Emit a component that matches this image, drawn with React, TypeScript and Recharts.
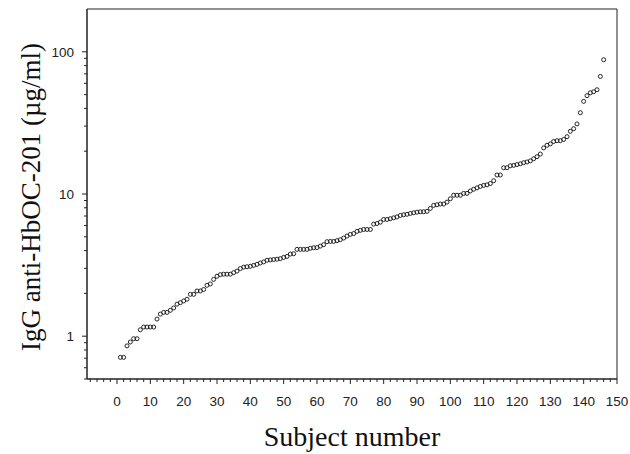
import React from 'react';
import { ScatterChart, Scatter, XAxis, YAxis, ReferenceArea } from 'recharts';

// IgG anti-HbOC-201 per subject, sorted ascending (µg/ml)
const iggValues = [
  0.71, 0.71, 0.855, 0.91, 0.96, 0.96, 1.11, 1.16, 1.16, 1.16,
  1.16, 1.32, 1.43, 1.47, 1.47, 1.52, 1.58, 1.68, 1.72, 1.77,
  1.82, 1.97, 1.97, 2.08, 2.08, 2.13, 2.28, 2.33, 2.51, 2.64,
  2.71, 2.73, 2.73, 2.73, 2.8, 2.87, 2.99, 3.06, 3.08, 3.1,
  3.15, 3.2, 3.27, 3.33, 3.42, 3.44, 3.46, 3.48, 3.51, 3.58,
  3.64, 3.78, 3.8, 4.08, 4.08, 4.08, 4.08, 4.15, 4.19, 4.2,
  4.3, 4.4, 4.62, 4.64, 4.64, 4.7, 4.77, 4.9, 5.06, 5.2,
  5.27, 5.46, 5.55, 5.63, 5.63, 5.63, 6.14, 6.2, 6.34, 6.62,
  6.62, 6.7, 6.8, 6.9, 7.07, 7.15, 7.2, 7.3, 7.38, 7.45,
  7.5, 7.5, 7.55, 7.92, 8.32, 8.4, 8.5, 8.5, 8.77, 9.26,
  9.8, 9.8, 9.8, 10.1, 10.1, 10.5, 10.8, 11.05, 11.3, 11.5,
  11.6, 11.85, 12.4, 13.6, 13.6, 15.3, 15.3, 15.8, 15.9, 16.1,
  16.3, 16.6, 16.8, 17.1, 17.7, 18.3, 19.1, 21.1, 22, 22.5,
  23.4, 23.7, 23.7, 24.2, 25.3, 27.6, 28.8, 31.1, 37.3, 44.8,
  49.1, 51.5, 52.4, 54.1, 67.1, 87.9,
];

const xTicks = [
  -8, -6, -4, -2, 0, 2, 4, 6, 8, 10, 12, 14, 16, 18, 20, 22, 24, 26, 28, 30,
  32, 34, 36, 38, 40, 42, 44, 46, 48, 50, 52, 54, 56, 58, 60, 62, 64, 66, 68, 70,
  72, 74, 76, 78, 80, 82, 84, 86, 88, 90, 92, 94, 96, 98, 100, 102, 104, 106, 108, 110,
  112, 114, 116, 118, 120, 122, 124, 126, 128, 130, 132, 134, 136, 138, 140, 142, 144, 146, 148, 150,
];
const yTicks = [
  0.5, 0.6, 0.7, 0.8, 0.9, 1, 2, 3, 4, 5, 6, 7, 8, 9, 10,
  20, 30, 40, 50, 60, 70, 80, 90, 100,
];
const yMajor = [1, 10, 100];

const data = iggValues.map((v, i) => ({ subject: i + 1, igg: v }));

const INK = '#222';
const SANS = '"Liberation Sans", Arial, sans-serif';
const SERIF = '"Liberation Serif", "Times New Roman", serif';

const XTick = (props: any) => {
  const { x, y, payload } = props;
  const major = payload.value % 10 === 0;
  return (
    <g>
      <line x1={x} x2={x} y1={y} y2={y + (major ? 5 : 3)} stroke={INK} strokeWidth={1} />
      {major && payload.value >= 0 && (
        <text x={x} y={y + 26.5} textAnchor="middle" fontSize={13.5} fontFamily={SANS} fill={INK}>
          {payload.value}
        </text>
      )}
    </g>
  );
};

const YTick = (props: any) => {
  const { x, y, payload } = props;
  const major = yMajor.includes(payload.value);
  return (
    <g>
      <line x1={x - (major ? 5 : 3)} x2={x} y1={y} y2={y} stroke={INK} strokeWidth={1} />
      {major && (
        <text x={x - 13} y={y + 5} textAnchor="end" fontSize={13.5} fontFamily={SANS} fill={INK}>
          {payload.value}
        </text>
      )}
    </g>
  );
};

const Dot = (props: any) => (
  <circle cx={props.cx} cy={props.cy} r={2} fill="none" stroke="#111" strokeWidth={0.9} />
);

export default function App() {
  return (
    <div style={{ width: 630, height: 454 }}>
      <style>{'body{margin:0}'}</style>
      <ScatterChart width={630} height={454} margin={{ top: 9, right: 13, left: 0, bottom: 0 }}>
        <XAxis
          type="number"
          dataKey="subject"
          domain={[-9, 150]}
          ticks={xTicks}
          interval={0}
          tickSize={0}
          tickMargin={0}
          tick={<XTick />}
          axisLine={{ stroke: INK }}
          height={75}
          allowDataOverflow
          label={() => (
            <text x={352} y={446} textAnchor="middle" fontSize={28} fontFamily={SERIF} fill="#111">
              Subject number
            </text>
          )}
        />
        <YAxis
          type="number"
          dataKey="igg"
          scale="log"
          domain={[0.5, 200]}
          ticks={yTicks}
          interval={0}
          tickSize={0}
          tickMargin={0}
          tick={<YTick />}
          axisLine={{ stroke: INK }}
          width={87}
          allowDataOverflow
          label={() => (
            <text
              x={0}
              y={0}
              transform="translate(40, 197) rotate(-90)"
              textAnchor="middle"
              fontSize={27}
              fontFamily={SERIF}
              fill="#111"
            >
              IgG anti-HbOC-201 (µg/ml)
            </text>
          )}
        />
        <ReferenceArea x1={-9} x2={150} y1={0.5} y2={200} fill="none" stroke={INK} strokeWidth={1} ifOverflow="visible" />
        <Scatter data={data} shape={<Dot />} isAnimationActive={false} />
      </ScatterChart>
    </div>
  );
}
